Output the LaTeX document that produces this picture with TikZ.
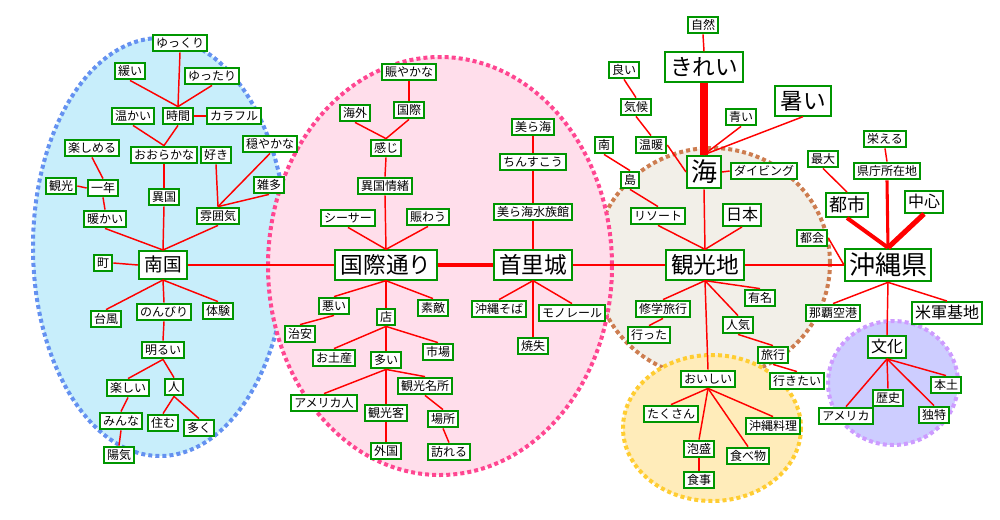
\documentclass[tikz,border=0pt]{standalone}
\usepackage{fontspec}
\setmainfont{Noto Sans CJK JP}
\definecolor{boxgreen}{RGB}{0,150,0}
\definecolor{linkred}{RGB}{255,0,0}
\definecolor{bluefill}{RGB}{200,238,251}
\definecolor{blueline}{RGB}{100,145,240}
\definecolor{pinkfill}{RGB}{255,222,235}
\definecolor{pinkline}{RGB}{255,70,145}
\definecolor{beigefill}{RGB}{242,239,232}
\definecolor{beigeline}{RGB}{205,125,80}
\definecolor{yellowfill}{RGB}{255,236,186}
\definecolor{yellowline}{RGB}{255,205,50}
\definecolor{lavfill}{RGB}{205,205,255}
\definecolor{lavline}{RGB}{205,155,255}
\begin{document}
\begin{tikzpicture}[x=0.75pt, y=-0.75pt,
  word/.style={draw=boxgreen, line width=1.5pt, fill=white, text=black,
    inner xsep=2.5pt, inner ysep=1.8pt, font=\fontsize{9}{10}\selectfont,
    text height=7.6pt, text depth=1.4pt},
  midword/.style={word, inner ysep=2.2pt, font=\fontsize{12}{13}\selectfont,
    text height=10.2pt, text depth=1.8pt},
  bigword/.style={word, inner xsep=4pt, inner ysep=2.5pt, font=\fontsize{17}{18}\selectfont,
    text height=14.5pt, text depth=2.5pt},
  hugeword/.style={word, inner xsep=3pt, inner ysep=2.5pt, font=\fontsize{19.5}{20}\selectfont,
    text height=16.6pt, text depth=2.9pt},
  link/.style={linkred, line width=1.1pt},
  oval/.style={line width=3pt, dash pattern=on 3pt off 2.3pt}]
  \useasboundingbox (0,0) rectangle (1000,519);
  % Areas
  \draw[oval, draw=blueline, fill=bluefill] (160,247) ellipse (127 and 209);
  \draw[oval, draw=beigeline, fill=beigefill] (712,263) ellipse (118 and 115);
  \draw[oval, draw=pinkline, fill=pinkfill] (440,266) ellipse (172 and 209);
  \draw[oval, draw=yellowline, fill=yellowfill] (712,428) ellipse (89 and 73);
  \draw[oval, draw=lavline, fill=lavfill] (893,383) ellipse (65 and 62);
  % Nangoku
  \node[word] (yukkuri) at (180,43) {ゆっくり};
  \node[word] (yurui) at (130,71) {緩い};
  \node[word] (yuttari) at (212,76) {ゆったり};
  \node[word] (nukui) at (133,116) {温かい};
  \node[word] (jikan) at (178,116) {時間};
  \node[word] (colorful) at (234,116) {カラフル};
  \node[word] (tanoshimeru) at (92,148) {楽しめる};
  \node[word] (ooraka) at (164,155) {おおらかな};
  \node[word] (suki) at (216,155) {好き};
  \node[word] (odayaka) at (270,144) {穏やかな};
  \node[word] (kanko) at (61,186) {観光};
  \node[word] (ichinen) at (103,188) {一年};
  \node[word] (zatta) at (269,185) {雑多};
  \node[word] (ikoku) at (164,197) {異国};
  \node[word] (atatakai) at (105,219) {暖かい};
  \node[word] (funiki) at (218,216) {雰囲気};
  \node[word] (machi) at (103,263) {町};
  \node[bigword, inner ysep=3.5pt, font=\fontsize{14}{15}\selectfont,
    text height=12pt, text depth=2pt] (nangoku) at (163,265) {南国};
  \node[word] (taifu) at (106,319) {台風};
  \node[word] (nonbiri) at (164,312) {のんびり};
  \node[word] (taiken) at (218,311) {体験};
  \node[word] (akarui) at (163,350) {明るい};
  \node[word] (tanoshii) at (128,388) {楽しい};
  \node[word] (hito) at (174,387) {人};
  \node[word] (minna) at (121,421) {みんな};
  \node[word] (sumu) at (163,423) {住む};
  \node[word] (ooku) at (199,428) {多く};
  \node[word] (yoki) at (119,455) {陽気};
  \draw[link] (yukkuri.south) -- (jikan.north);
  \draw[link] (yurui.south) -- (jikan.north);
  \draw[link] (yuttari.south) -- (jikan.north);
  \draw[link] (jikan.east) -- (colorful.west);
  \draw[link] (nukui.south) -- (ooraka.north);
  \draw[link] (jikan.south) -- (ooraka.north);
  \draw[link] (ooraka.south) -- (ikoku.north);
  \draw[link] (ikoku.south) -- (nangoku.north);
  \draw[link] (tanoshimeru.south) -- (ichinen.north);
  \draw[link] (kanko.east) -- (ichinen.west);
  \draw[link] (ichinen.south) -- (atatakai.north);
  \draw[link] (atatakai.south) -- (nangoku.north);
  \draw[link] (suki.south) -- (funiki.north);
  \draw[link] (odayaka.south) -- (funiki.north);
  \draw[link] (zatta.south) -- (funiki.north);
  \draw[link] (funiki.south) -- (nangoku.north);
  \draw[link] (machi.east) -- (nangoku.west);
  \foreach \n in {taifu, nonbiri, taiken}
    \draw[link] (nangoku.south) -- (\n.north);
  \draw[link] (nonbiri.south) -- (akarui.north);
  \draw[link] (akarui.south) -- (tanoshii.north);
  \draw[link] (akarui.south) -- (hito.north);
  \draw[link] (tanoshii.south) -- (minna.north);
  \draw[link] (minna.south) -- (yoki.north);
  \draw[link] (hito.south) -- (sumu.north);
  \draw[link] (hito.south) -- (ooku.north);
  % Kokusai-dori
  \node[word] (nigiyaka) at (409,72) {賑やかな};
  \node[word] (kaigai) at (355,113) {海外};
  \node[word] (kokusaiw) at (409,110) {国際};
  \node[word] (kanji) at (386,148) {感じ};
  \node[word] (jocho) at (385,186) {異国情緒};
  \node[word] (shisa) at (348,218) {シーサー};
  \node[word] (nigiwau) at (428,217) {賑わう};
  \node[bigword] (kokusai) at (386,265) {国際通り};
  \node[word] (warui) at (334,306) {悪い};
  \node[word] (mise) at (386,317) {店};
  \node[word] (suteki) at (433,308) {素敵};
  \node[word] (chian) at (300,334) {治安};
  \node[word] (omiyage) at (334,358) {お土産};
  \node[word] (ichiba) at (438,352) {市場};
  \node[word] (ooi) at (386,360) {多い};
  \node[word] (meisho) at (425,386) {観光名所};
  \node[word] (americajin) at (324,403) {アメリカ人};
  \node[word] (kankokyaku) at (386,413) {観光客};
  \node[word] (basho) at (443,419) {場所};
  \node[word] (gaikoku) at (386,451) {外国};
  \node[word] (otozureru) at (449,452) {訪れる};
  \draw[link] (nigiyaka.south) -- (kokusaiw.north);
  \draw[link] (kaigai.south) -- (kanji.north);
  \draw[link] (kokusaiw.south) -- (kanji.north);
  \draw[link] (kanji.south) -- (jocho.north);
  \draw[link] (jocho.south) -- (kokusai.north);
  \draw[link] (shisa.south) -- (kokusai.north);
  \draw[link] (nigiwau.south) -- (kokusai.north);
  \draw[link] (nangoku.east) -- (kokusai.west);
  \foreach \n in {warui, mise, suteki}
    \draw[link] (kokusai.south) -- (\n.north);
  \draw[link] (warui.south) -- (chian.north);
  \foreach \n in {omiyage, ooi, ichiba}
    \draw[link] (mise.south) -- (\n.north);
  \foreach \n in {americajin, kankokyaku, meisho}
    \draw[link] (ooi.south) -- (\n.north);
  \draw[link] (kankokyaku.south) -- (gaikoku.north);
  \draw[link] (meisho.south) -- (basho.north);
  \draw[link] (basho.south) -- (otozureru.north);
  % Shurijo
  \node[word] (churaumi) at (533,127) {美ら海};
  \node[word] (chinsuko) at (533,162) {ちんすこう};
  \node[word] (suizokukan) at (533,212) {美ら海水族館};
  \node[bigword] (shuri) at (533,265) {首里城};
  \node[word] (soba) at (499,309) {沖縄そば};
  \node[word] (monorail) at (572,313) {モノレール};
  \node[word] (shoshitsu) at (533,346) {焼失};
  \draw[link] (churaumi.south) -- (chinsuko.north);
  \draw[link] (chinsuko.south) -- (suizokukan.north);
  \draw[link] (suizokukan.south) -- (shuri.north);
  \draw[link, line width=2.3pt] (kokusai.east) -- (shuri.west);
  \foreach \n in {soba, monorail, shoshitsu}
    \draw[link] (shuri.south) -- (\n.north);
  % Kankochi
  \node[word] (shizen) at (703,25) {自然};
  \node[bigword] (kirei) at (704,67) {きれい};
  \node[word] (yoi) at (624,70) {良い};
  \node[word] (kiko) at (636,107) {気候};
  \node[word] (aoi) at (741,117) {青い};
  \node[bigword] (atsui) at (803,101) {暑い};
  \node[word] (minami) at (604,145) {南};
  \node[word] (ondan) at (651,145) {温暖};
  \node[hugeword] (umi) at (704,172) {海};
  \node[word] (diving) at (764,171) {ダイビング};
  \node[word] (shima) at (630,180) {島};
  \node[word] (resort) at (658,216) {リソート};
  \node[midword] (nihon) at (742,215) {日本};
  \node[bigword] (kankochi) at (705,265) {観光地};
  \node[word] (yumei) at (760,298) {有名};
  \node[word] (shugaku) at (663,309) {修学旅行};
  \node[word] (ninki) at (738,325) {人気};
  \node[word] (itta) at (649,335) {行った};
  \node[word] (ryoko) at (773,355) {旅行};
  \node[word] (ikitai) at (797,381) {行きたい};
  \node[word] (oishii) at (708,379) {おいしい};
  \node[word] (takusan) at (671,414) {たくさん};
  \node[word] (ryori) at (773,426) {沖縄料理};
  \node[word] (awamori) at (699,449) {泡盛};
  \node[word] (tabemono) at (748,456) {食べ物};
  \node[word] (shokuji) at (699,480) {食事};
  \draw[link] (shizen.south) -- (kirei.north);
  \draw[link, line width=6pt] (kirei.south) -- (umi.north);
  \draw[link] (yoi.south) -- (kiko.north);
  \draw[link] (kiko.south) -- (ondan.north);
  \draw[link] (ondan.east) -- (umi.west);
  \draw[link] (aoi.south) -- (umi.north);
  \draw[link] (atsui.south) -- (umi.north);
  \draw[link] (diving.west) -- (umi.east);
  \draw[link] (minami.south) -- (shima.north);
  \draw[link] (shima.south) -- (resort.north);
  \foreach \n in {resort, umi, nihon}
    \draw[link] (\n.south) -- (kankochi.north);
  \draw[link] (shuri.east) -- (kankochi.west);
  \foreach \n in {shugaku, oishii, ninki, yumei}
    \draw[link] (kankochi.south) -- (\n.north);
  \draw[link] (shugaku.south) -- (itta.north);
  \draw[link] (ninki.south) -- (ryoko.north);
  \draw[link] (ryoko.south) -- (ikitai.north);
  \foreach \n in {takusan, awamori, tabemono, ryori}
    \draw[link] (oishii.south) -- (\n.north);
  \draw[link] (awamori.south) -- (shokuji.north);
  % Okinawa-ken
  \node[word] (sakaeru) at (885,139) {栄える};
  \node[word] (saidai) at (823,159) {最大};
  \node[word] (kencho) at (887,171) {県庁所在地};
  \node[midword, font=\fontsize{13.5}{14}\selectfont, text height=11.5pt,
    text depth=2pt] (toshi) at (847,205) {都市};
  \node[midword] (chushin) at (924,202) {中心};
  \node[word] (tokai) at (812,238) {都会};
  \node[hugeword] (okinawa) at (888,265) {沖縄県};
  \node[word] (naha) at (833,313) {那覇空港};
  \node[midword] (kichi) at (947,313) {米軍基地};
  \node[midword] (bunka) at (887,347) {文化};
  \node[word] (hondo) at (946,385) {本土};
  \node[word] (rekishi) at (888,398) {歴史};
  \node[word] (america) at (846,416) {アメリカ};
  \node[word] (dokutoku) at (934,415) {独特};
  \draw[link] (sakaeru.south) -- (kencho.north);
  \draw[link, line width=2.3pt] (kencho.south) -- (okinawa.north);
  \draw[link] (saidai.south) -- (toshi.north);
  \draw[link, line width=3pt] (toshi.south) -- (okinawa.north);
  \draw[link, line width=3.8pt] (chushin.south) -- (okinawa.north);
  \draw[link] (tokai.east) -- (okinawa.west);
  \draw[link] (kankochi.east) -- (okinawa.west);
  \foreach \n in {naha, kichi, bunka}
    \draw[link] (okinawa.south) -- (\n.north);
  \foreach \n in {america, rekishi, dokutoku, hondo}
    \draw[link] (bunka.south) -- (\n.north);
\end{tikzpicture}
\end{document}
